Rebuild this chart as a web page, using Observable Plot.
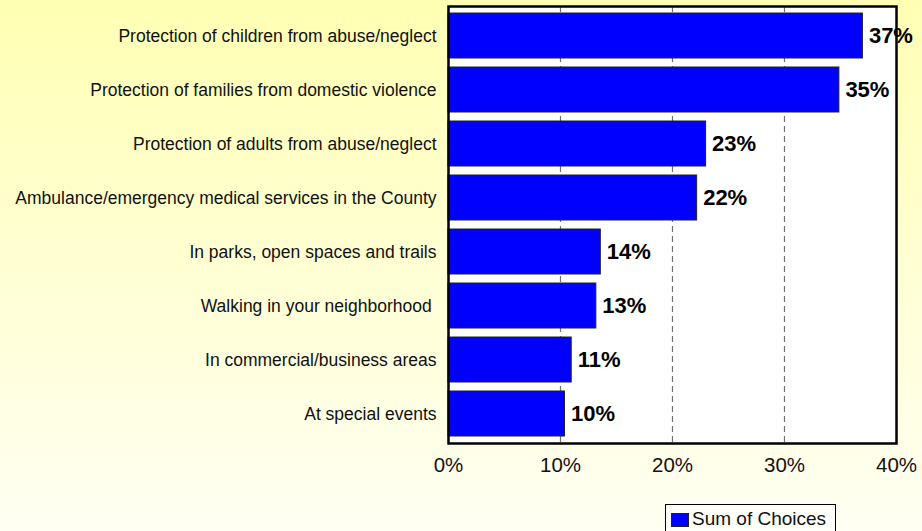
<!DOCTYPE html>
<html>
<head>
<meta charset="utf-8">
<script src="https://cdn.jsdelivr.net/npm/d3@7"></script>
<script src="https://cdn.jsdelivr.net/npm/@observablehq/plot@0.6"></script>
<style>
  html, body { margin: 0; padding: 0; width: 922px; height: 531px; overflow: hidden; }
  body {
    background: linear-gradient(to bottom, #ffffb4 0%, #fffff3 100%);
    font-family: "Liberation Sans", Arial, sans-serif;
    position: relative;
  }
  #chart { position: absolute; left: 0; top: 0; }
  #legend {
    position: absolute; left: 665px; top: 504px; width: 171px; height: 40px;
    border: 1px solid #000; background: #fffffa; box-sizing: border-box;
    display: flex; align-items: flex-start; padding: 4px 0 0 5px;
    font-size: 19px; color: #111; line-height: 20px;
  }
  #legend .sw { width: 18px; height: 14px; background: #0000ff; border: 1px solid #222; box-sizing: border-box; margin: 4px 3px 0 0; }
</style>
</head>
<body>
<div id="chart"></div>
<div id="legend"><div class="sw"></div><span id="legendText"></span></div>
<script>
const categories = [
  "Protection of children from abuse/neglect",
  "Protection of families from domestic violence",
  "Protection of adults from abuse/neglect",
  "Ambulance/emergency medical services in the County",
  "In parks, open spaces and trails",
  "Walking in your neighborhood ",
  "In commercial/business areas",
  "At special events"
];
const values = [0.370, 0.349, 0.230, 0.222, 0.136, 0.132, 0.110, 0.104];
const seriesName = "Sum of Choices";
const xTicks = [0, 0.1, 0.2, 0.3, 0.4];
const gridTicks = [0.1, 0.2, 0.3];

const data = categories.map((c, i) => ({category: c, value: values[i]}));
const pct = d3.format(".0%");

document.getElementById("legendText").textContent = seriesName;

const chart = Plot.plot({
  width: 922,
  height: 495,
  marginLeft: 448,
  marginRight: 26,
  marginTop: 6,
  marginBottom: 52,
  style: { background: "transparent", fontFamily: "'Liberation Sans', Arial, sans-serif", color: "#111" },
  x: { domain: [0, 0.4], ticks: xTicks, tickFormat: pct },
  y: { domain: categories, paddingInner: 0.16, paddingOuter: 0.08 },
  marks: [
    Plot.frame({ fill: "white", stroke: "none" }),
    Plot.ruleX(gridTicks, { stroke: "#707070", strokeWidth: 1.2, strokeDasharray: "6,4" }),
    Plot.barX(data, { x: "value", y: "category", fill: "#0000ff", stroke: "#222", strokeWidth: 1 }),
    Plot.text(data, { x: "value", y: "category", text: d => pct(d.value), textAnchor: "start", dx: 6, fontWeight: "bold", fontSize: 22, fill: "#000" }),
    Plot.axisX({ ticks: xTicks, tickFormat: pct, tickSize: 0, tickPadding: 14, fontSize: 20.5, label: null }),
    Plot.axisY({ tickSize: 0, tickPadding: 12, fontSize: 17.5, label: null }),
    Plot.frame({ stroke: "#000", strokeWidth: 2.5 })
  ]
});
document.getElementById("chart").appendChild(chart);
</script>
</body>
</html>
